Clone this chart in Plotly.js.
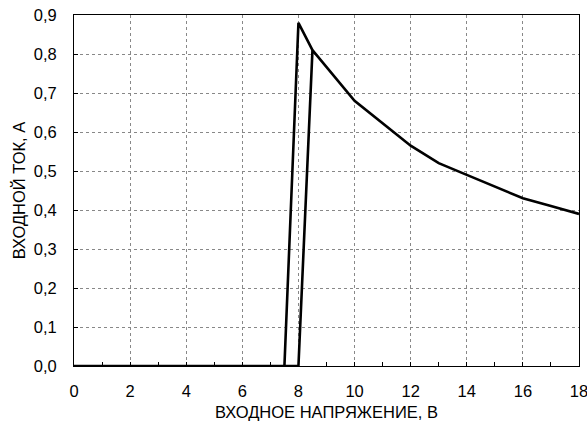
<!DOCTYPE html>
<html><head><meta charset="utf-8">
<script src="https://cdn.plot.ly/plotly-3.0.1.min.js"></script>
<style>body{margin:0;background:#fff}#c{width:587px;height:428px}</style>
</head><body><div id="c"></div>
<script>
// Rising branch (increasing voltage)
const upX = [0, 8.0, 8.5, 10, 12, 13, 14, 15, 16, 17, 18];
const upY = [0, 0, 0.81, 0.68, 0.565, 0.52, 0.49, 0.46, 0.43, 0.41, 0.39];
// Falling branch (decreasing voltage)
const downX = [8.5, 8.0, 7.5];
const downY = [0.81, 0.88, 0];
const xTicks = [0, 2, 4, 6, 8, 10, 12, 14, 16, 18];
const yTicks = [0, 0.1, 0.2, 0.3, 0.4, 0.5, 0.6, 0.7, 0.8, 0.9];
const yLabels = yTicks.map(v => v.toFixed(1).replace('.', ','));

const line = {color: '#000', width: 2.6};
const traces = [
  {x: upX, y: upY, mode: 'lines', line: line, hoverinfo: 'skip'},
  {x: downX, y: downY, mode: 'lines', line: line, hoverinfo: 'skip'}
];
const font = {family: 'Liberation Sans, Arial, sans-serif', size: 16.5, color: '#000'};
const layout = {
  width: 587, height: 428,
  margin: {l: 74, r: 8, t: 15, b: 62},
  showlegend: false,
  paper_bgcolor: '#fff', plot_bgcolor: '#fff',
  font: font,
  xaxis: {
    range: [0, 18], tickvals: xTicks, ticktext: xTicks.map(String),
    showgrid: true, gridcolor: '#888', griddash: 'dot', gridwidth: 1,
    showline: true, linecolor: '#000', linewidth: 1, mirror: true,
    ticks: 'inside', ticklen: 4, tickcolor: '#000',
    minor: {dtick: 1, ticks: 'inside', ticklen: 4, tickcolor: '#000', showgrid: false},
    zeroline: false, fixedrange: true, automargin: false,
    ticklabelstandoff: 10, ticklabeloverflow: 'allow',
    title: {text: 'ВХОДНОЕ НАПРЯЖЕНИЕ, В', font: font, standoff: 7}
  },
  yaxis: {
    range: [0, 0.9], tickvals: yTicks, ticktext: yLabels,
    showgrid: true, gridcolor: '#888', griddash: 'dot', gridwidth: 1,
    showline: true, linecolor: '#000', linewidth: 1, mirror: true,
    ticks: 'inside', ticklen: 4, tickcolor: '#000',
    zeroline: false, fixedrange: true, automargin: false,
    ticklabelstandoff: 13, ticklabeloverflow: 'allow',
    title: {text: 'ВХОДНОЙ ТОК, А', font: font, standoff: 3}
  }
};
Plotly.newPlot('c', traces, layout, {staticPlot: true});
</script></body></html>
